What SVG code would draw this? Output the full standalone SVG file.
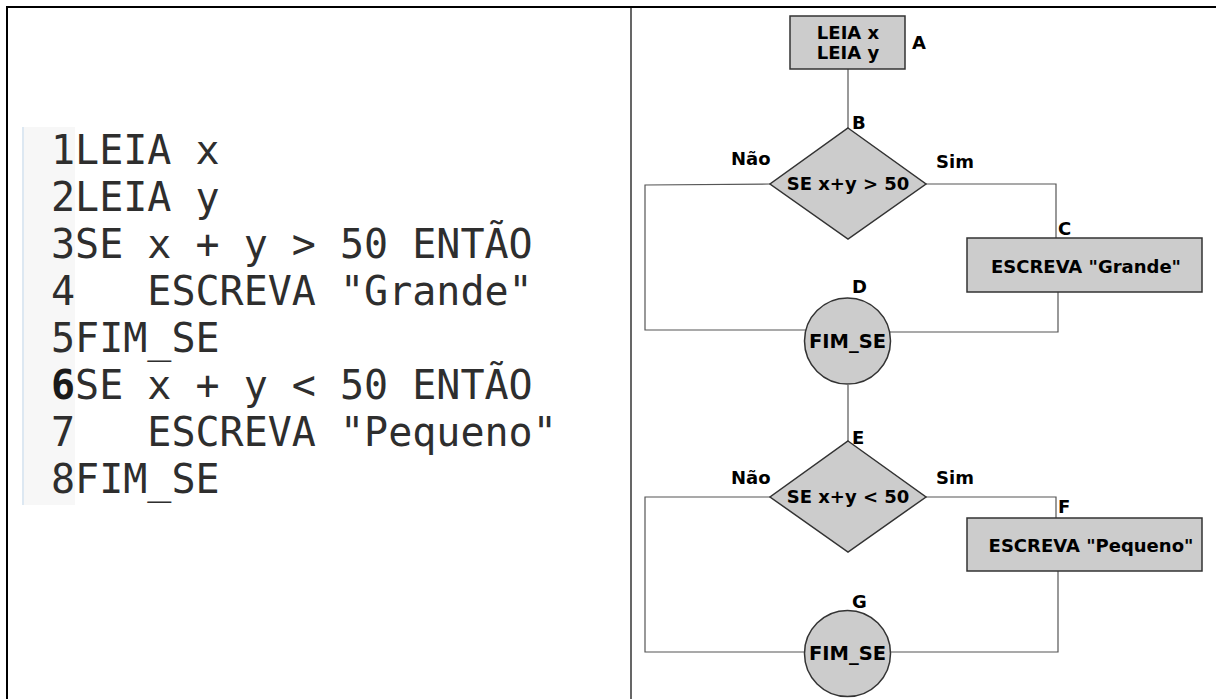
<svg xmlns="http://www.w3.org/2000/svg" width="1216" height="699" viewBox="0 0 1216 699">
  <style>
    .code { font-family: "DejaVu Sans Mono", "Liberation Mono", monospace; font-size: 40px; fill: #2e2e2e; white-space: pre; }
    .num-bold { font-weight: bold; fill: #1a1a1a; }
    .shape { fill: #cccccc; stroke: #333333; stroke-width: 1.5; }
    .lbl { font-family: "DejaVu Sans", "Noto Sans", sans-serif; font-weight: bold; font-size: 18px; fill: #000000; }
    .mid { text-anchor: middle; }
    .wire { fill: none; stroke: #555555; stroke-width: 1.2; }
    .frame { stroke: #000000; fill: none; }
  </style>

  <rect width="1216" height="699" fill="#ffffff"/>

  <!-- page frame: top rule, left rule and the column divider -->
  <g id="frame">
    <line class="frame" x1="6" y1="7" x2="1216" y2="7" stroke-width="2"/>
    <line class="frame" x1="7" y1="6" x2="7" y2="699" stroke-width="2"/>
    <line class="frame" x1="631" y1="7" x2="631" y2="699" stroke-width="1.2"/>
  </g>

  <!-- source listing -->
  <g id="listing">
    <rect x="22" y="127" width="53" height="378" fill="#f7f7f7"/>
    <rect x="22" y="127" width="2" height="378" fill="#dde8f2"/>
    <text class="code" x="51" y="164">1LEIA x</text>
    <text class="code" x="51" y="211">2LEIA y</text>
    <text class="code" x="51" y="258">3SE x + y &gt; 50 ENTÃO</text>
    <text class="code" x="51" y="305">4   ESCREVA "Grande"</text>
    <text class="code" x="51" y="352">5FIM_SE</text>
    <text class="code" x="51" y="399"><tspan class="num-bold">6</tspan>SE x + y &lt; 50 ENTÃO</text>
    <text class="code" x="51" y="446">7   ESCREVA "Pequeno"</text>
    <text class="code" x="51" y="493">8FIM_SE</text>
  </g>

  <!-- flowchart connectors -->
  <g id="connectors">
    <path class="wire" d="M848 69 V128"/>
    <path class="wire" d="M770 184 L645 185 V330 H806"/>
    <path class="wire" d="M926 184 H1056 V238"/>
    <path class="wire" d="M1058 292 V332 H889"/>
    <path class="wire" d="M848 385 V441"/>
    <path class="wire" d="M770 497 H645 V652 H806"/>
    <path class="wire" d="M926 497 H1056 V518"/>
    <path class="wire" d="M1058 571 V652 H889"/>
  </g>

  <!-- A: input -->
  <g id="node-A">
    <rect class="shape" x="790" y="16" width="115" height="53"/>
    <text class="lbl mid" x="848" y="39">LEIA x</text>
    <text class="lbl mid" x="848" y="59">LEIA y</text>
    <text class="lbl" x="912" y="49">A</text>
  </g>

  <!-- B: first decision -->
  <g id="node-B">
    <polygon class="shape" points="848,128 926,184 848,239 770,184"/>
    <text class="lbl mid" x="848" y="190">SE x+y &gt; 50</text>
    <text class="lbl" x="852" y="129">B</text>
    <text class="lbl" x="731" y="165">Não</text>
    <text class="lbl" x="936" y="168">Sim</text>
  </g>

  <!-- C: output "Grande" -->
  <g id="node-C">
    <rect class="shape" x="967" y="238" width="235" height="54"/>
    <text class="lbl mid" x="1086" y="273">ESCREVA "Grande"</text>
    <text class="lbl" x="1058" y="235">C</text>
  </g>

  <!-- D: end of first if -->
  <g id="node-D">
    <circle class="shape" cx="847.5" cy="341" r="43"/>
    <text class="lbl mid" x="847.5" y="348" style="font-size:19.5px">FIM_SE</text>
    <text class="lbl" x="852" y="293">D</text>
  </g>

  <!-- E: second decision -->
  <g id="node-E">
    <polygon class="shape" points="848,441 926,497 848,552 770,497"/>
    <text class="lbl mid" x="848" y="503">SE x+y &lt; 50</text>
    <text class="lbl" x="852" y="444">E</text>
    <text class="lbl" x="731" y="484">Não</text>
    <text class="lbl" x="936" y="484">Sim</text>
  </g>

  <!-- F: output "Pequeno" -->
  <g id="node-F">
    <rect class="shape" x="967" y="518" width="235" height="53"/>
    <text class="lbl mid" x="1091" y="552">ESCREVA "Pequeno"</text>
    <text class="lbl" x="1058" y="513">F</text>
  </g>

  <!-- G: end of second if -->
  <g id="node-G">
    <circle class="shape" cx="847.5" cy="653.5" r="43"/>
    <text class="lbl mid" x="847.5" y="660" style="font-size:19.5px">FIM_SE</text>
    <text class="lbl" x="852" y="608">G</text>
  </g>
</svg>
